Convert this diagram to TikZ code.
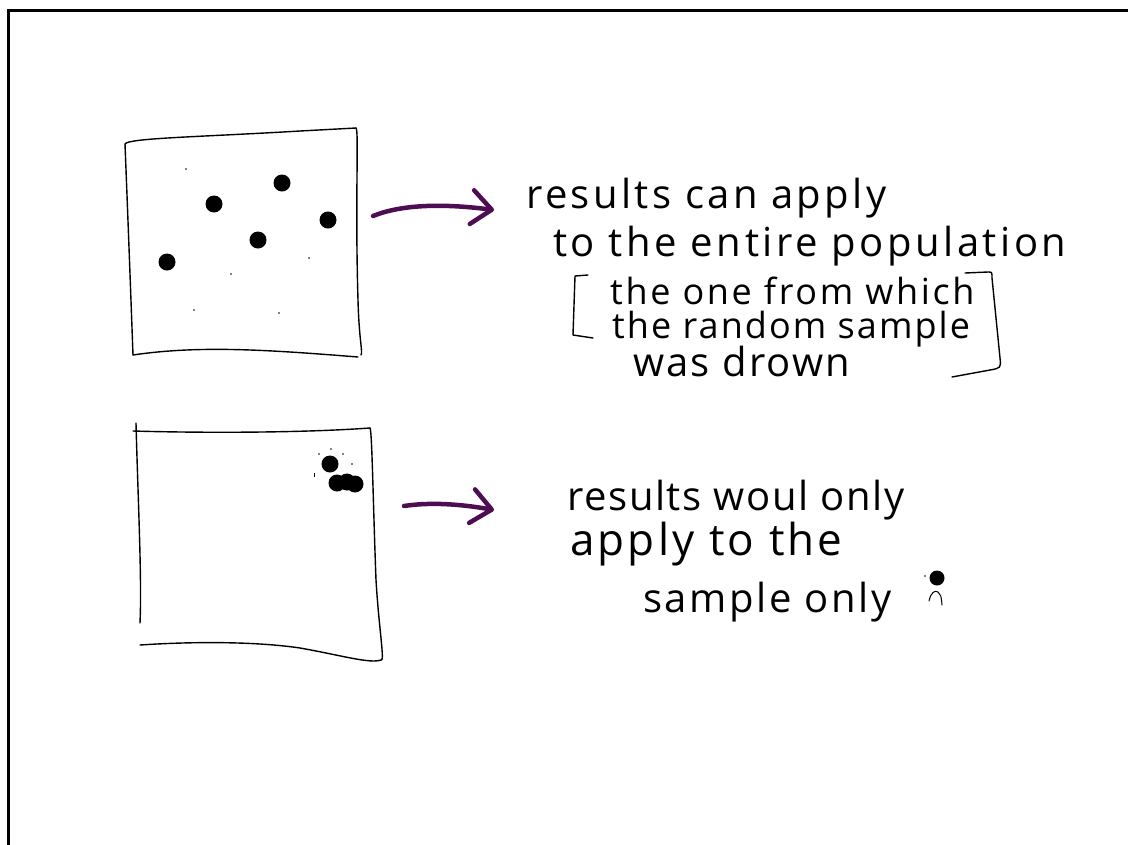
\documentclass[tikz,border=0pt]{standalone}
\usepackage{fontspec}
\setmainfont{Open Sans}
\usetikzlibrary{arrows.meta}
\definecolor{penpurple}{RGB}{78,12,82}
\newcommand{\handfont}[2]{\fontsize{#1}{#1}\selectfont\addfontfeatures{LetterSpace=#2}}
\begin{document}
\begin{tikzpicture}[x=1pt,y=-1pt,
  frame/.style={line width=3pt, line cap=rect},
  sketch/.style={line width=1.4pt, line cap=round, line join=round},
  bigdot/.style={circle, fill=black, inner sep=0pt, minimum size=17pt},
  speck/.style={circle, fill=black, inner sep=0pt, minimum size=1.8pt},
  hand/.style={anchor=base west, inner sep=0pt},
  penarrow/.style={penpurple, line width=4.5pt, line cap=round,
    -{Straight Barb[length=20pt,width=34pt,round]}}
]
\useasboundingbox (0,0) rectangle (1128,844);
% outer frame
\draw[frame] (8,844) -- (8,10) -- (1128,10);

% ---------- box 1 ----------
\coordinate (b1tl) at (125,144);
\coordinate (b1tr) at (356,128);
\coordinate (b1br) at (361,355);
\coordinate (b1bl) at (133,355);
\draw[sketch] (b1tl) .. controls (128,138) and (200,137) .. (300,131) -- (b1tr);
\draw[sketch] (b1tr) .. controls (359,130) and (355,200) .. (358,300) .. controls (359,340) and (363,352) .. (b1br);
\draw[sketch] (b1bl) .. controls (200,345) and (270,350) .. (358,357);
\draw[sketch] (b1tl) .. controls (128,220) and (131,300) .. (b1bl);
\node[bigdot] (p1) at (282,183) {};
\node[bigdot] (p2) at (214,204) {};
\node[bigdot] (p3) at (328,220) {};
\node[bigdot] (p4) at (258,240) {};
\node[bigdot] (p5) at (167,262) {};
\node[speck] (s1) at (186,169) {};
\node[speck] (s2) at (231,274) {};
\node[speck] (s3) at (309,258) {};
\node[speck] (s4) at (194,310) {};
\node[speck] (s5) at (279,313) {};

% arrow 1
\coordinate (a1s) at (373,216);
\coordinate (a1e) at (494,210);
\draw[penarrow] (a1s) .. controls (400,205) and (440,203) .. (a1e);

% text 1
\node[hand, font=\handfont{40}{8.4}] (t1a) at (526,208) {results can apply};
\node[hand, font=\handfont{40}{8.8}] (t1b) at (553,256) {to the entire population};
\node[hand, font=\handfont{36}{7.4}] (t1c) at (610,304) {the one from which};
\node[hand, font=\handfont{36}{5.7}] (t1d) at (612,338) {the random sample};
\node[hand, font=\handfont{40}{5.4}] (t1e) at (633,376) {was drown};
\draw[sketch] (588,275) -- (575,276) -- (573,335) -- (593,338);
\draw[sketch] (965,273) -- (988,272) .. controls (992,272) .. (992,278) -- (1000,358) .. controls (1001,368) .. (990,370) -- (952,377);

% ---------- box 2 ----------
\coordinate (b2tl) at (133,431);
\coordinate (b2tr) at (370,428);
\coordinate (b2br) at (381,660);
\coordinate (b2bl) at (140,645);
\draw[sketch] (136,423) .. controls (138,500) and (142,580) .. (140,623);
\draw[sketch] (b2tl) .. controls (200,433) and (300,433) .. (b2tr);
\draw[sketch] (b2tr) .. controls (372,430) and (373,500) .. (376,580) .. controls (379,630) and (385,662) .. (b2br);
\draw[sketch] (b2bl) .. controls (200,641) and (260,642) .. (300,648) .. controls (340,655) and (370,664) .. (b2br);
\node[bigdot] (q1) at (330,464) {};
\node[bigdot] (q2) at (337,483) {};
\node[bigdot] (q3) at (347,482) {};
\node[bigdot] (q4) at (355,484) {};
\node[speck] (r1) at (319,454) {};
\node[speck] (r2) at (331,449) {};
\node[speck] (r3) at (343,454) {};
\node[speck] (r4) at (352,464) {};
\draw[line width=1pt] (314,473) -- (314,477);

% arrow 2
\coordinate (a2s) at (404,506);
\coordinate (a2e) at (494,510);
\draw[penarrow] (a2s) .. controls (430,502) and (460,504) .. (a2e);

% text 2
\node[hand, font=\handfont{40}{4}] (t2a) at (567,510) {results woul only};
\node[hand, font=\handfont{44}{7.2}] (t2b) at (570,555) {apply to the};
\node[hand, font=\handfont{40}{6.5}] (t2c) at (643,612) {sample only};
\node[circle, fill=black, inner sep=0pt, minimum size=15pt] (m1) at (937,578) {};
\node[speck] (m2) at (925,576) {};
\draw[sketch, line width=1pt] (929,601) .. controls (931,592) and (935,590) .. (938,592) .. controls (941,595) .. (942,605);
\end{tikzpicture}
\end{document}
